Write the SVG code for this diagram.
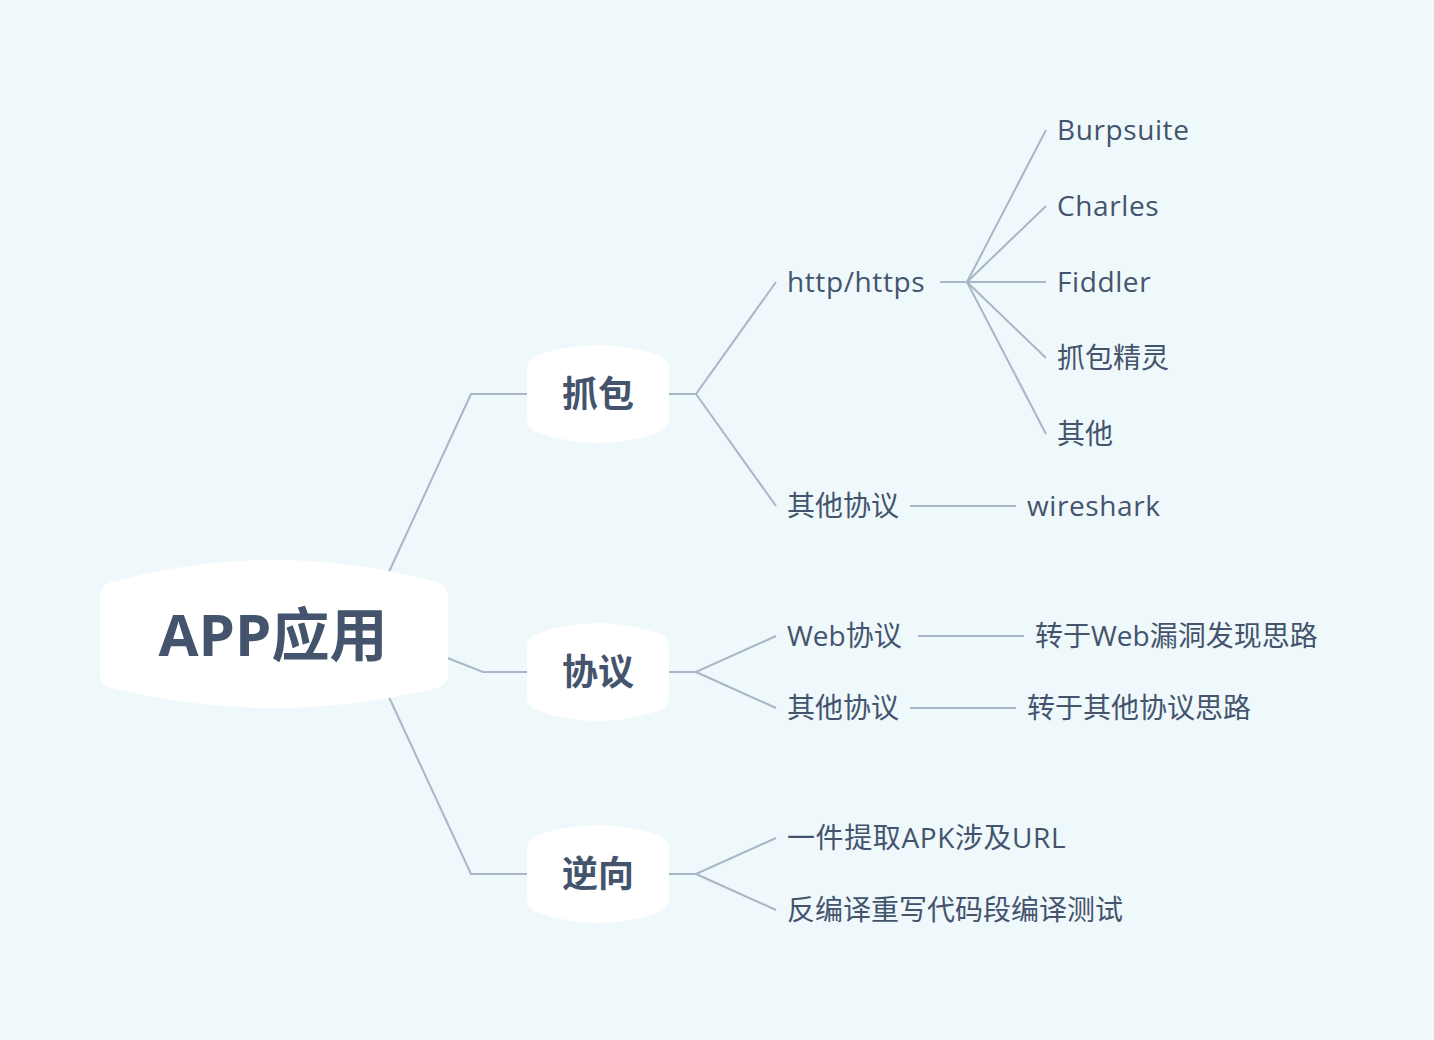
<svg xmlns="http://www.w3.org/2000/svg" width="1434" height="1040" viewBox="0 0 1434 1040">
<style>
.bg{fill:#eff8fb}
.node{fill:#ffffff}
.ln{fill:none;stroke:#a8b6c8;stroke-width:2}
.t{font-family:"Open Sans","Noto Sans CJK SC",sans-serif;font-size:28px;fill:#44546d}
.lat{letter-spacing:0.6px}
.tb{font-family:"Open Sans","Noto Sans CJK SC",sans-serif;font-weight:bold;font-size:36px;fill:#44546d;text-anchor:middle}
.tr{font-family:"Open Sans","Noto Sans CJK SC",sans-serif;font-weight:bold;font-size:58px;fill:#44546d;text-anchor:middle}
</style>
<rect class="bg" x="0" y="0" width="1434" height="1040"/>
<g id="connectors">
<polyline class="ln" points="388,574 471,394 530,394"/>
<polyline class="ln" points="445,657 483,672 530,672"/>
<polyline class="ln" points="388,695 471,874 530,874"/>
<polyline class="ln" points="666,394 696,394 776,282"/>
<polyline class="ln" points="696,394 776,506"/>
<polyline class="ln" points="666,672 696,672 776,636"/>
<polyline class="ln" points="696,672 776,708"/>
<polyline class="ln" points="666,874 696,874 776,838"/>
<polyline class="ln" points="696,874 776,910"/>
<polyline class="ln" points="940,282 967,282 1046,130"/>
<polyline class="ln" points="967,282 1046,206"/>
<polyline class="ln" points="967,282 1046,282"/>
<polyline class="ln" points="967,282 1046,358"/>
<polyline class="ln" points="967,282 1046,434"/>
<line class="ln" x1="910" y1="506" x2="1016" y2="506"/>
<line class="ln" x1="918" y1="636" x2="1024" y2="636"/>
<line class="ln" x1="910" y1="708" x2="1016" y2="708"/>
</g>
<g id="root">
<path class="node" d="M100 597 Q100 585 112 582 Q274 538 436 582 Q448 585 448 597 L448 673 Q448 685 436 688 Q274 728 112 688 Q100 685 100 673 Z"/>
<text class="tr" x="273" y="656">APP应用</text>
</g>
<g id="n-zhuabao">
<path class="node" d="M527 370 Q527 358 539 355 Q598 335 657 355 Q669 358 669 370 L669 418 Q669 430 657 433 Q598 453 539 433 Q527 430 527 418 Z"/>
<text class="tb" x="598" y="407">抓包</text>
</g>
<g id="n-xieyi">
<path class="node" d="M527 648 Q527 636 539 633 Q598 613 657 633 Q669 636 669 648 L669 696 Q669 708 657 711 Q598 731 539 711 Q527 708 527 696 Z"/>
<text class="tb" x="598" y="685">协议</text>
</g>
<g id="n-nixiang">
<path class="node" d="M527 850 Q527 838 539 835 Q598 815 657 835 Q669 838 669 850 L669 898 Q669 910 657 913 Q598 933 539 913 Q527 910 527 898 Z"/>
<text class="tb" x="598" y="887">逆向</text>
</g>
<g id="n-http"><text class="t lat" x="787" y="292">http/https</text></g>
<g id="n-burp"><text class="t lat" x="1057" y="140">Burpsuite</text></g>
<g id="n-charles"><text class="t lat" x="1057" y="216">Charles</text></g>
<g id="n-fiddler"><text class="t lat" x="1057" y="292">Fiddler</text></g>
<g id="n-zbjl"><text class="t" x="1057" y="368">抓包精灵</text></g>
<g id="n-qita"><text class="t" x="1057" y="444">其他</text></g>
<g id="n-qtxy1"><text class="t" x="787" y="516">其他协议</text></g>
<g id="n-wireshark"><text class="t lat" x="1027" y="516">wireshark</text></g>
<g id="n-web"><text class="t" x="787" y="646">Web协议</text></g>
<g id="n-webld"><text class="t" x="1035" y="646">转于Web漏洞发现思路</text></g>
<g id="n-qtxy2"><text class="t" x="787" y="718">其他协议</text></g>
<g id="n-qtxysl"><text class="t" x="1027" y="718">转于其他协议思路</text></g>
<g id="n-apk"><text class="t lat" x="787" y="848">一件提取APK涉及URL</text></g>
<g id="n-fbj"><text class="t" x="787" y="920">反编译重写代码段编译测试</text></g>
</svg>
